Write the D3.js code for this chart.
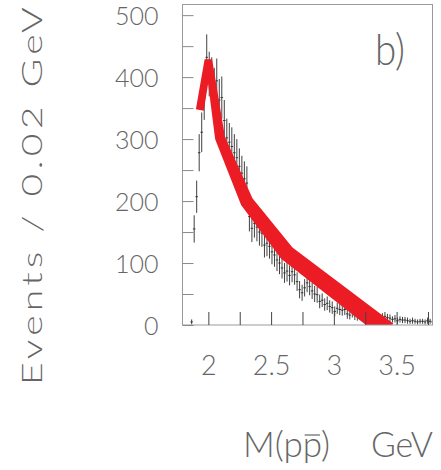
<!DOCTYPE html>
<html>
<head>
<meta charset="utf-8">
<script src="https://cdn.jsdelivr.net/npm/d3@7"></script>
<style>
  body { margin: 0; background: #fff; }
  text { font-family: Lato, "DejaVu Sans", sans-serif; font-weight: 300; fill: #666; }
</style>
</head>
<body>
<svg id="viz" width="441" height="470"></svg>
<script>
// bin centres, GeV (0.02 GeV bins)
const mass = [1.867, 1.887, 1.907, 1.927, 1.947, 1.967, 1.987, 2.007, 2.027, 2.047,
    2.067, 2.087, 2.107, 2.127, 2.147, 2.167, 2.187, 2.207, 2.227, 2.247,
    2.267, 2.287, 2.307, 2.327, 2.347, 2.367, 2.387, 2.407, 2.427, 2.447,
    2.467, 2.487, 2.507, 2.527, 2.547, 2.567, 2.587, 2.607, 2.627, 2.647,
    2.667, 2.687, 2.707, 2.727, 2.747, 2.767, 2.787, 2.807, 2.827, 2.847,
    2.867, 2.887, 2.907, 2.927, 2.947, 2.967, 2.987, 3.007, 3.027, 3.047,
    3.067, 3.087, 3.107, 3.127, 3.147, 3.167, 3.187, 3.207, 3.227, 3.247,
    3.267, 3.287, 3.307, 3.327, 3.347, 3.367, 3.387, 3.407, 3.427, 3.447,
    3.467, 3.487, 3.507, 3.527, 3.547, 3.567, 3.587, 3.607, 3.627, 3.647,
    3.667, 3.687, 3.707, 3.727, 3.747, 3.767, 3.787]
const events = [5, 155, 207, 278, 311, 365, 432, 405, 396, 380,
    394, 363, 367, 330, 302, 295, 288, 278, 270, 256,
    245, 236, 229, 175, 156, 164, 158, 150, 148, 129,
    132, 127, 118, 113, 105, 100, 92, 84, 87, 80,
    86, 81, 70, 57, 52, 60, 68, 62, 55, 50,
    49, 38, 40, 33, 35, 30, 28, 22, 27, 25,
    24, 25, 18, 16, 20, 15, 14, 16, 12, 13,
    11, 12, 10, 11, 9, 10, 13, 14, 12, 11,
    9, 10, 7, 9, 8, 8, 7, 6, 7, 6,
    5, 6, 6, 5, 7, 6, 5]
const errors = [4, 22, 26, 30, 32, 34, 37, 36, 36, 35,
    36, 34, 34, 33, 31, 31, 31, 30, 30, 29,
    28, 28, 27, 24, 22, 23, 23, 22, 22, 20,
    21, 20, 20, 19, 18, 18, 17, 16, 17, 16,
    17, 16, 15, 14, 13, 14, 15, 14, 13, 13,
    13, 11, 11, 10, 11, 10, 10, 8, 9, 9,
    9, 9, 8, 7, 8, 7, 7, 7, 6, 6,
    6, 6, 6, 6, 5, 6, 6, 7, 6, 6,
    5, 6, 5, 5, 5, 5, 5, 4, 5, 4,
    4, 4, 4, 4, 5, 4, 4]

// red fit curve
const fitMass = [1.932, 2.0, 2.093, 2.306, 2.625, 3.43]
const fitEvents = [347, 428, 302, 199, 116, -9]

const yTicks = [0, 50, 100, 150, 200, 250, 300, 350, 400, 450, 500]
const xTicks = [2, 2.25, 2.5, 2.75, 3, 3.25, 3.5, 3.75]
const xLabels = [2, 2.5, 3, 3.5]

const binWidth = 0.02;
const bandHalfWidth = [4, 3.8, 5, 6.5, 8, 9]; // px, per fit vertex

let svg = d3.select("#viz");
let x = d3.scaleLinear().domain([1.79, 3.79]).range([182, 433]);
let y = d3.scaleLinear().domain([0, 518]).range([325, 4]);

svg.append("clipPath").attr("id", "plotClip")
    .append("rect")
    .attr("x", 182).attr("y", 4)
    .attr("width", 251).attr("height", 321);

let plot = svg.append("g").attr("clip-path", "url(#plotClip)");

// data points with error bars
let pts = plot.append("g").selectAll("g")
    .data(mass.map((m, i) => ({ m: m, v: events[i], e: errors[i] })))
    .join("g");
pts.append("line")
    .attr("x1", d => x(d.m)).attr("x2", d => x(d.m))
    .attr("y1", d => y(d.v - d.e)).attr("y2", d => y(d.v + d.e))
    .style("stroke", "#2a2a2a").style("stroke-width", 0.9);
pts.append("line")
    .attr("x1", d => x(d.m - binWidth / 2)).attr("x2", d => x(d.m + binWidth / 2))
    .attr("y1", d => y(d.v)).attr("y2", d => y(d.v))
    .style("stroke", "#2a2a2a").style("stroke-width", 0.9);

// thick red band: offset outline around the fit polyline
function bandOutline(p, hw) {
    let n = p.length;
    let dirs = [], norms = [];
    for (let i = 0; i < n - 1; i++) {
        let dx = p[i + 1][0] - p[i][0], dy = p[i + 1][1] - p[i][1];
        let len = Math.hypot(dx, dy);
        dirs.push([dx / len, dy / len]);
        norms.push([-dy / len, dx / len]);
    }
    let sides = [1, -1].map(s => {
        let out = [];
        for (let i = 0; i < n; i++) {
            let w = hw[i] * s;
            if (i == 0 || i == n - 1) {
                let nn = norms[i == 0 ? 0 : n - 2];
                out.push([p[i][0] + nn[0] * w, p[i][1] + nn[1] * w]);
                continue;
            }
            let a = norms[i - 1], b = norms[i];
            let m = [a[0] + b[0], a[1] + b[1]];
            let ml = Math.hypot(m[0], m[1]);
            m = [m[0] / ml, m[1] / ml];
            let k = 1 / (m[0] * a[0] + m[1] * a[1]);
            let cross = dirs[i - 1][0] * dirs[i][1] - dirs[i - 1][1] * dirs[i][0];
            if (k > 2 && s * cross < 0) {
                out.push([p[i][0] + a[0] * w, p[i][1] + a[1] * w]);
                out.push([p[i][0] + b[0] * w, p[i][1] + b[1] * w]);
            } else {
                out.push([p[i][0] + m[0] * w * k, p[i][1] + m[1] * w * k]);
            }
        }
        return out;
    });
    return sides[0].concat(sides[1].reverse());
}

let fitPx = fitMass.map((m, i) => [x(m), y(fitEvents[i])]);
plot.append("path")
    .attr("d", d3.line()(bandOutline(fitPx, bandHalfWidth)) + "Z")
    .style("fill", "#ec1c24");

// frame
svg.append("rect")
    .attr("x", 182.5).attr("y", 4.5)
    .attr("width", 250).attr("height", 320.5)
    .style("fill", "none").style("stroke", "#9a9a9a").style("stroke-width", 1);

// axes, ticks pointing inwards
let yAxis = svg.append("g")
    .attr("transform", "translate(182.5,0)")
    .call(d3.axisLeft(y).tickValues(yTicks).tickSizeInner(-11).tickSizeOuter(0)
        .tickPadding(24).tickFormat(d => d % 100 == 0 ? d : ""));
yAxis.select(".domain").remove();
yAxis.selectAll("line").style("stroke", "#8a8a8a");
yAxis.selectAll("text").attr("font-size", 25).attr("dy", "0.38em")
    .style("font-family", "Lato, 'DejaVu Sans', sans-serif").style("fill", "#666");

let xAxis = svg.append("g")
    .attr("transform", "translate(0,325)")
    .call(d3.axisBottom(x).tickValues(xTicks).tickSizeInner(-13).tickSizeOuter(0)
        .tickPadding(31).tickFormat(d => xLabels.includes(d) ? d : ""));
xAxis.select(".domain").remove();
xAxis.selectAll("line").style("stroke", "#444");
xAxis.selectAll("text").attr("font-size", 27)
    .style("font-family", "Lato, 'DejaVu Sans', sans-serif").style("fill", "#666");

// panel label
svg.append("text").text("b)")
    .attr("x", 375).attr("y", 65)
    .attr("font-size", 44)
    .attr("textLength", 30).attr("lengthAdjust", "spacingAndGlyphs");

// axis titles
let xt = svg.append("text").text("M(pp)")
    .attr("x", 243).attr("y", 457)
    .attr("font-size", 36)
    .attr("textLength", 87).attr("lengthAdjust", "spacingAndGlyphs");
let xtNode = xt.node();
let b0 = xtNode.getStartPositionOfChar(3), b1 = xtNode.getEndPositionOfChar(3);
svg.append("line")
    .attr("x1", b0.x + 2).attr("x2", b1.x - 1)
    .attr("y1", 435).attr("y2", 435)
    .style("stroke", "#666").style("stroke-width", 1.2);

svg.append("text").text("GeV")
    .attr("x", 433).attr("y", 457)
    .attr("text-anchor", "end")
    .attr("font-size", 36)
    .attr("textLength", 62).attr("lengthAdjust", "spacingAndGlyphs");

svg.append("text").text("Events / 0.02 GeV")
    .attr("transform", "translate(42,194) rotate(-90)")
    .attr("text-anchor", "middle")
    .attr("font-size", 28)
    .attr("letter-spacing", 3)
    .attr("textLength", 382).attr("lengthAdjust", "spacingAndGlyphs");
</script>
</body>
</html>
